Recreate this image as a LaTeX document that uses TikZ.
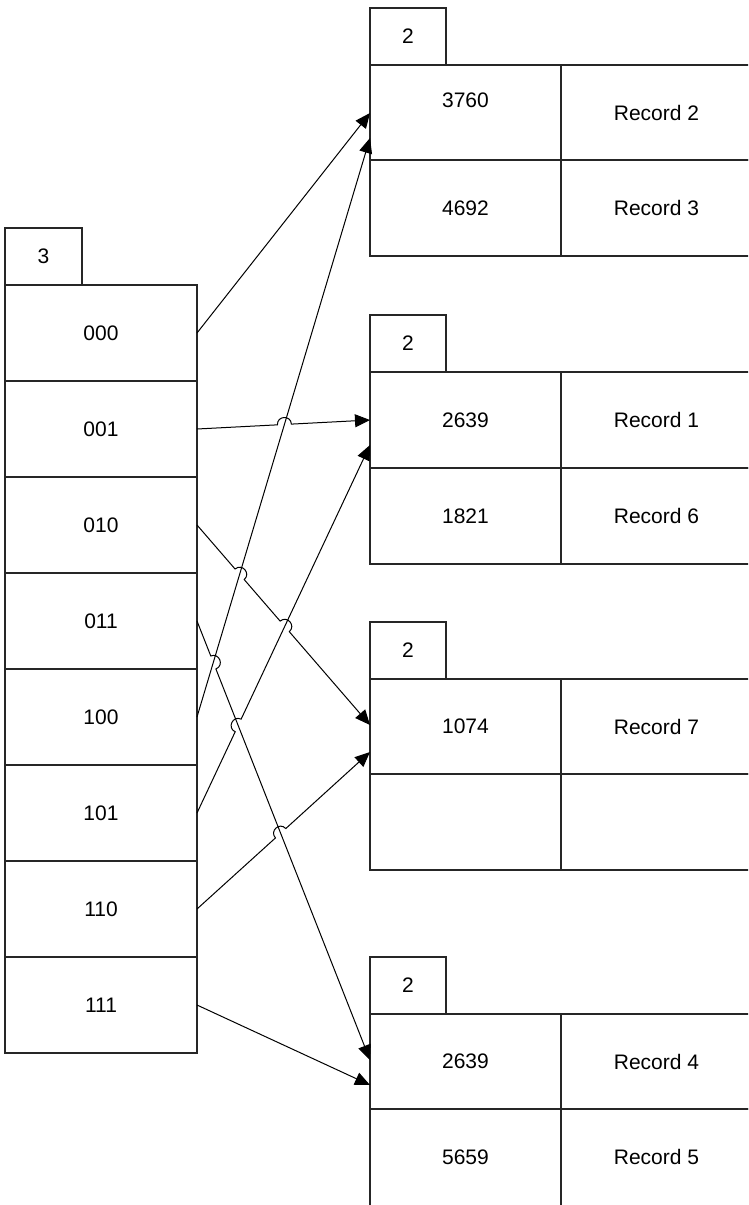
\documentclass[tikz,border=0pt]{standalone}
\usepackage{fontspec}
\setmainfont{Liberation Sans}
\usetikzlibrary{calc,arrows.meta}

% A line jump: the path A--B hops over the line C--D with a small semicircle
% on its left-hand side.  Defines #1 (crossing), #1p/#1q (ends of the jump)
% and #1a/#1b (control points of the arc).
\newcommand{\defhop}[5]{%
  \coordinate (#1) at (intersection of #2--#3 and #4--#5);
  \coordinate (#1p) at ($(#1)!7pt!(#2)$);
  \coordinate (#1q) at ($(#1)!7pt!(#3)$);
  \coordinate (#1a) at ($(#1p)!9.3pt!90:(#1)$);
  \coordinate (#1b) at ($(#1q)!9.3pt!-90:(#1)$);
}

\tikzset{
  cell/.style={draw=black!85, line width=1.2pt, rectangle, inner sep=0pt,
    outer sep=0pt, anchor=north west, font=\fontsize{21}{24}\selectfont},
  hdr/.style={cell, minimum width=76, minimum height=57},
  dirrow/.style={cell, minimum width=192, minimum height=96},
  keycell/.style={cell, minimum width=191, minimum height=96},
  reccell/.style={cell, minimum width=191, minimum height=96},
  txt/.style={font=\fontsize{21}{24}\selectfont, inner sep=0pt},
  link/.style={draw=black, line width=1pt,
    -{Triangle[length=15pt,width=13pt]}},
}

\begin{document}
\begin{tikzpicture}[x=1pt, y=-1pt]
\useasboundingbox (0,0) rectangle (748,1205);
\clip (0,0) rectangle (748,1205);
\fill[white] (0,0) rectangle (748,1205);

% ---------- directory ----------
\node[hdr, minimum width=77] (dh) at (5,228) {3};
\node[dirrow] (d000) at (5,285) {000};
\node[dirrow] (d001) at (5,381) {001};
\node[dirrow] (d010) at (5,477) {010};
\node[dirrow] (d011) at (5,573) {011};
\node[dirrow] (d100) at (5,669) {100};
\node[dirrow] (d101) at (5,765) {101};
\node[dirrow] (d110) at (5,861) {110};
\node[dirrow] (d111) at (5,957) {111};

% ---------- bucket 1 ----------
\node[hdr] (b1h) at (370,8) {2};
\node[keycell, minimum height=95] (b1k1) at (370,65) {};
\node[txt] (b1k1t) at ($(b1k1.center)+(0,-12)$) {3760};
\node[reccell, minimum height=95] (b1r1) at (561,65) {Record 2};
\node[keycell] (b1k2) at (370,160) {4692};
\node[reccell] (b1r2) at (561,160) {Record 3};

% ---------- bucket 2 ----------
\node[hdr] (b2h) at (370,315) {2};
\node[keycell] (b2k1) at (370,372) {2639};
\node[reccell] (b2r1) at (561,372) {Record 1};
\node[keycell] (b2k2) at (370,468) {1821};
\node[reccell] (b2r2) at (561,468) {Record 6};

% ---------- bucket 3 ----------
\node[hdr] (b3h) at (370,622) {2};
\node[keycell, minimum height=95] (b3k1) at (370,679) {1074};
\node[reccell, minimum height=95] (b3r1) at (561,679) {Record 7};
\node[keycell] (b3k2) at (370,774) {};
\node[reccell] (b3r2) at (561,774) {};

% ---------- bucket 4 ----------
\node[hdr] (b4h) at (370,957) {2};
\node[keycell, minimum height=95] (b4k1) at (370,1014) {2639};
\node[reccell, minimum height=95] (b4r1) at (561,1014) {Record 4};
\node[keycell, minimum height=100] (b4k2) at (370,1109) {};
\node[txt] (b4k2t) at ($(b4k1.center)+(0,95.5)$) {5659};
\node[reccell, minimum height=100] (b4r2) at (561,1109) {};
\node[txt] (b4r2t) at ($(b4r1.center)+(0,95.5)$) {Record 5};

% ---------- connector ends ----------
\foreach \k in {000,001,010,011,100,101,110,111}
  \coordinate (s\k) at (d\k.east);
\coordinate (t000) at ($(b1k1.north west)+(0,48)$);
\coordinate (t100) at ($(b1k1.north west)+(0,73)$);
\coordinate (t001) at ($(b2k1.north west)+(0,48)$);
\coordinate (t101) at ($(b2k1.north west)+(0,73)$);
\coordinate (t010) at ($(b3k1.north west)+(0,46)$);
\coordinate (t110) at ($(b3k1.north west)+(0,73)$);
\coordinate (t011) at ($(b4k1.north west)+(0,46)$);
\coordinate (t111) at ($(b4k1.north west)+(0,71)$);

% ---------- line jumps ----------
\defhop{hA}{s001}{t001}{s100}{t100}
\defhop{hB}{s010}{t010}{s100}{t100}
\defhop{hC}{s010}{t010}{s101}{t101}
\defhop{hD}{s011}{t011}{s100}{t100}
\defhop{hE}{s101}{t101}{s011}{t011}
\defhop{hF}{s110}{t110}{s011}{t011}

% ---------- pointers ----------
\draw[link] (s000) -- (t000);
\draw[link] (s100) -- (t100);
\draw[link] (s001) -- (hAp) .. controls (hAa) and (hAb) .. (hAq) -- (t001);
\draw[link] (s010) -- (hBp) .. controls (hBa) and (hBb) .. (hBq)
  -- (hCp) .. controls (hCa) and (hCb) .. (hCq) -- (t010);
\draw[link] (s011) -- (hDp) .. controls (hDa) and (hDb) .. (hDq) -- (t011);
\draw[link] (s101) -- (hEp) .. controls (hEa) and (hEb) .. (hEq) -- (t101);
\draw[link] (s110) -- (hFp) .. controls (hFa) and (hFb) .. (hFq) -- (t110);
\draw[link] (s111) -- (t111);
\end{tikzpicture}
\end{document}
